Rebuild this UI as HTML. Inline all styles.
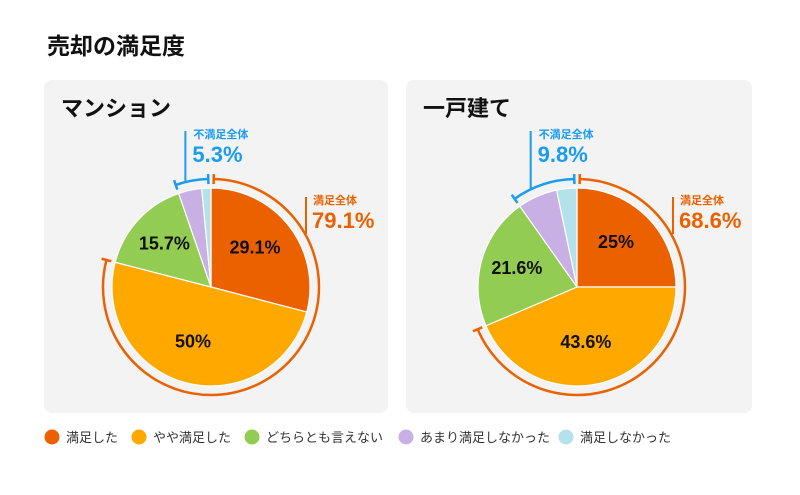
<!DOCTYPE html>
<html><head><meta charset="utf-8"><style>
body{margin:0;width:800px;height:495px;background:#fff;overflow:hidden;font-family:"Liberation Sans","Noto Sans CJK JP",sans-serif}
</style></head><body>
<svg id="c" width="800" height="495" style="position:absolute;left:0;top:0">
<text x="47" y="54" font-size="23" font-weight="bold" fill="#111">売却の満足度</text>
<rect x="44" y="80" width="344" height="333" rx="8" fill="#f3f3f3"/>
<rect x="406" y="80" width="346" height="333" rx="8" fill="#f3f3f3"/>
<text x="61" y="116" font-size="22" font-weight="bold" fill="#111">マンション</text>
<text x="423" y="116" font-size="22" font-weight="bold" fill="#111">一戸建て</text>
</svg>
<script>
const categories=["満足した","やや満足した","どちらとも言えない","あまり満足しなかった","満足しなかった"];
const colors=["#eb6100","#fea800","#93cc52","#c8b0e4","#b3e2ec"];
const mansionValues=[29.1,50,15.7,3.8,1.5];
const houseValues=[25,43.6,21.6,6.5,3.3];
const mansionLabels=["29.1%","50%","15.7%","",""];
const houseLabels=["25%","43.6%","21.6%","",""];
const mansionTotals=["79.1%","5.3%"];
const houseTotals=["68.6%","9.8%"];
const NS="http://www.w3.org/2000/svg";
const svg=document.getElementById('c');
function mk(t,a){const e=document.createElementNS(NS,t);for(const k in a)e.setAttribute(k,a[k]);svg.appendChild(e);return e;}
function pt(cx,cy,r,f){const a=f*2*Math.PI;return [cx+r*Math.sin(a),cy-r*Math.cos(a)];}
function arcPath(cx,cy,r,f0,f1){const p0=pt(cx,cy,r,f0),p1=pt(cx,cy,r,f1);const lg=(f1-f0)>0.5?1:0;return `M${p0[0]},${p0[1]} A${r},${r} 0 ${lg} 1 ${p1[0]},${p1[1]}`;}
function cap(cx,cy,r,f,col){const a=pt(cx,cy,r-5,f),b=pt(cx,cy,r+5,f);const e=mk('line',{x1:a[0],y1:a[1],x2:b[0],y2:b[1],stroke:col,'stroke-width':2.5});}
function drawPie(cx,cy,vals,labels,totals,key,lx){
  const R=99,AR=108,sum=vals.reduce((a,b)=>a+b,0);let acc=0;
  vals.forEach((v,i)=>{const f0=acc/sum,f1=(acc+v)/sum;acc+=v;
    const p0=pt(cx,cy,R,f0),p1=pt(cx,cy,R,f1);const lg=(f1-f0)>0.5?1:0;
    const s=mk('path',{d:`M${cx},${cy} L${p0[0]},${p0[1]} A${R},${R} 0 ${lg} 1 ${p1[0]},${p1[1]} Z`,fill:colors[i],stroke:'#fff','stroke-width':1.2});
    
    
    if(labels[i]){const m=pt(cx,cy,R*0.6,(f0+f1)/2);const t=mk('text',{x:m[0]-3,y:m[1]+3,'text-anchor':'middle','font-size':18,'font-weight':'bold',fill:'#111'});t.textContent=labels[i];
      
      }
  });
  const sat=(vals[0]+vals[1])/sum,dis=(vals[3]+vals[4])/sum;
  const o=mk('path',{d:arcPath(cx,cy,AR,0.004,sat),fill:'none',stroke:'#eb6100','stroke-width':2.5});
  
  
  cap(cx,cy,AR,0.004,'#eb6100');cap(cx,cy,AR,sat,'#eb6100');
  const b=mk('path',{d:arcPath(cx,cy,AR,1-dis,0.996),fill:'none',stroke:'#1a9cf0','stroke-width':2.5});
  
  
  cap(cx,cy,AR,1-dis,'#1a9cf0');cap(cx,cy,AR,0.996,'#1a9cf0');
  const lp=pt(cx,cy,AR,1-dis*0.72);
  const bl=mk('line',{x1:lp[0],y1:131,x2:lp[0],y2:lp[1],stroke:'#1a9cf0','stroke-width':2});
  
  
  let t=mk('text',{x:lp[0]+8,y:138,'font-size':11,'font-weight':'bold',fill:'#1a9cf0'});t.textContent='不満足全体';
  
  
  t=mk('text',{x:lp[0]+7,y:162,'font-size':22,'font-weight':'bold',fill:'#1a9cf0'});t.textContent=totals[1];
  
  
  const ol=mk('line',{x1:lx,y1:197,x2:lx,y2:234,stroke:'#eb6100','stroke-width':2});
  
  
  t=mk('text',{x:lx+7,y:204,'font-size':11,'font-weight':'bold',fill:'#eb6100'});t.textContent='満足全体';
  
  
  t=mk('text',{x:lx+6,y:228,'font-size':22,'font-weight':'bold',fill:'#eb6100'});t.textContent=totals[0];
  
  
}
drawPie(211,287,mansionValues,mansionLabels,mansionTotals,'mansion',306);
drawPie(577,287,houseValues,houseLabels,houseTotals,'house',673);
const legendX=[52,139,252,406,566];
categories.forEach((c,i)=>{
  const ci=mk('circle',{cx:legendX[i],cy:437,r:7.5,fill:colors[i]});
  
  
  const t=mk('text',{x:legendX[i]+14,y:442,'font-size':13,fill:'#333'});t.textContent=c;
  
  
});
</script>
</body></html>
